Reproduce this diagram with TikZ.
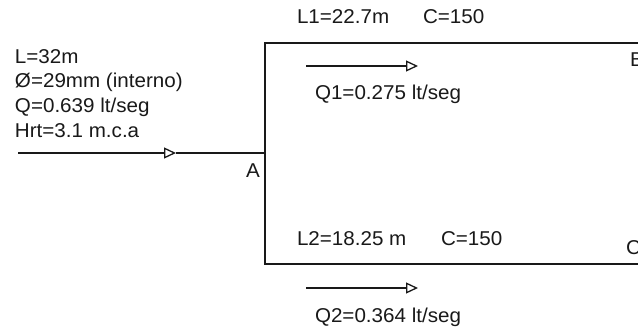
\documentclass[tikz,border=0pt]{standalone}
\usepackage{fontspec}
\setmainfont{Liberation Sans}
\usetikzlibrary{arrows.meta}
\tikzset{
  lbl/.style={anchor=base west,inner sep=0pt,outer sep=0pt,font=\fontsize{20}{22}\selectfont,xscale=1.03,text=black!90},
  pipe/.style={line width=2pt,black!90},
  flow/.style={line width=1.3pt,black!90,-{Triangle[open,length=12pt,width=11pt,line width=1.3pt]}},
  flowmain/.style={flow,line width=1.6pt}
}
\begin{document}
\begin{tikzpicture}[x=1pt,y=-1pt]
\useasboundingbox (0,0) rectangle (638,329);
\clip (0,0) rectangle (638,329);
\fill[white] (0,0) rectangle (638,329);
\coordinate (start) at (18,153);
\coordinate (head) at (176,153);
\coordinate (a) at (265,153);
\coordinate (atop) at (265,43);
\coordinate (abot) at (265,264);
\coordinate (bend) at (640,43);
\coordinate (cend) at (640,264);
\coordinate (q1s) at (306,66);
\coordinate (q1e) at (418,66);
\coordinate (q2s) at (306,288);
\coordinate (q2e) at (418,288);
\draw[flowmain] (start) -- (head);
\draw[pipe,line width=1.6pt] (head) -- (a);
\draw[pipe,line cap=rect] (bend) -- (atop) -- (abot) -- (cend);
\draw[flow] (q1s) -- (q1e);
\draw[flow] (q2s) -- (q2e);
\node[lbl] (t1) at (15,63.3) {L=32m};
\node[lbl] (t2) at (15,88) {Ø=29mm (interno)};
\node[lbl] (t3) at (15,112.7) {Q=0.639 lt/seg};
\node[lbl] (t4) at (15,137.3) {Hrt=3.1 m.c.a};
\node[lbl] (la) at (246,177) {A};
\node[lbl] (lb) at (630,66.7) {B};
\node[lbl] (lc) at (626,254) {C};
\node[lbl] (l1) at (297,24) {L1=22.7m};
\node[lbl] (c1) at (423,24) {C=150};
\node[lbl] (q1) at (315,99.3) {Q1=0.275 lt/seg};
\node[lbl] (l2) at (297,245) {L2=18.25 m};
\node[lbl] (c2) at (441,245) {C=150};
\node[lbl] (q2) at (315,322.7) {Q2=0.364 lt/seg};
\end{tikzpicture}
\end{document}
